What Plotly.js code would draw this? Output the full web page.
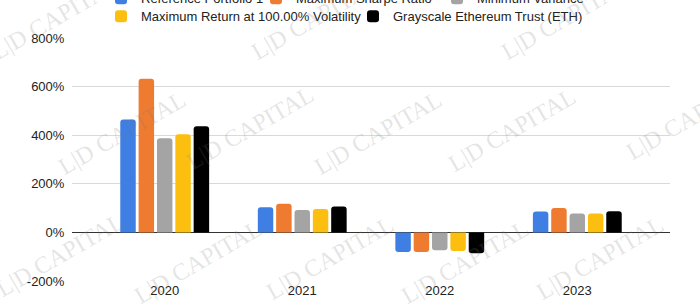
<!DOCTYPE html>
<html>
<head>
<meta charset="utf-8">
<script src="https://cdn.plot.ly/plotly-3.0.1.min.js"></script>
<style>
  html, body { margin: 0; padding: 0; background: #ffffff; }
  #chart { width: 700px; height: 306px; }
</style>
</head>
<body>
<div id="chart"></div>
<script>
// Annual returns by portfolio, in percent
const years = ['2020', '2021', '2022', '2023'];
const seriesNames = [
  'Reference Portfolio 1',
  'Maximum Sharpe Ratio',
  'Minimum Variance',
  'Maximum Return at 100.00% Volatility',
  'Grayscale Ethereum Trust (ETH)'
];
const referencePortfolio = [465, 103, -81, 86];
const maxSharpe = [632, 118, -81, 100];
const minVariance = [387, 92, -73, 78];
const maxReturn = [404, 96, -77, 78];
const ethTrust = [437, 107, -86, 87];
const yTicks = [-200, 0, 200, 400, 600, 800];

const seriesValues = [referencePortfolio, maxSharpe, minVariance, maxReturn, ethTrust];
const seriesColors = ['#3f7fe3', '#ef7b30', '#a4a4a4', '#fdbf0f', '#000000'];

// each legend entry gets its own legend box so entries can sit on two rows
const legendIds = ['legend', 'legend2', 'legend3', 'legend4', 'legend5'];
// left edge (px) and top edge (px) of every legend box
const legendLeft = [101, 256, 437, 101, 353];
const legendTop = [-16.6, -16.6, -16.6, 1.4, 1.4];

const traces = seriesNames.map((name, i) => ({
  type: 'bar',
  name: name,
  x: years,
  y: seriesValues[i],
  legend: legendIds[i],
  marker: { color: seriesColors[i], line: { width: 0 } },
  hoverinfo: 'skip'
}));

const plotLeft = 72, plotRight = 670, plotTop = 38, plotBottom = 281;
const toPaperX = px => (px - plotLeft) / (plotRight - plotLeft);
const toPaperY = py => (plotBottom - py) / (plotBottom - plotTop);

// Diagonal brand watermark, tiled across the canvas (pixel positions)
const markPixels = [
  [55, 18], [315, 18], [565, 18],
  [122, 133], [250, 128], [378, 133], [512, 130], [690, 118],
  [60, 255], [198, 262], [330, 258], [465, 262], [600, 258]
];
const watermarks = markPixels.map(([px, py]) => ({
  xref: 'paper', yref: 'paper',
  x: toPaperX(px),
  y: toPaperY(py),
  xanchor: 'center', yanchor: 'middle',
  text: 'L|D CAPITAL',
  showarrow: false,
  textangle: -30,
  font: { family: 'Liberation Serif, DejaVu Serif, serif', size: 24, color: 'rgba(120,120,120,0.2)' }
}));

const layout = {
  width: 700,
  height: 306,
  margin: { l: plotLeft, r: 700 - plotRight, t: plotTop, b: 306 - plotBottom, autoexpand: false },
  paper_bgcolor: '#ffffff',
  plot_bgcolor: '#ffffff',
  font: { family: 'Liberation Sans, Arial, Helvetica, sans-serif', size: 13, color: '#222222' },
  barmode: 'group',
  bargap: 0.333,
  bargroupgap: 0.157,
  barcornerradius: 3,
  showlegend: true,
  xaxis: {
    type: 'category',
    range: [-0.674, 3.674],
    showgrid: false,
    zeroline: false,
    showline: false,
    ticks: '',
    tickfont: { size: 13, color: '#222222' },
    fixedrange: true
  },
  yaxis: {
    range: [-200, 800],
    tickvals: yTicks,
    ticktext: yTicks.map(v => v + '%'),
    showgrid: true,
    gridcolor: '#d9d9d9',
    gridwidth: 1,
    zeroline: true,
    zerolinecolor: '#333333',
    zerolinewidth: 1,
    showline: false,
    ticks: 'outside',
    ticklen: 4,
    tickcolor: 'rgba(0,0,0,0)',
    tickfont: { size: 13, color: '#222222' },
    fixedrange: true
  },
  annotations: watermarks
};

legendIds.forEach((id, i) => {
  layout[id] = {
    orientation: 'h',
    xref: 'paper', yref: 'paper',
    x: toPaperX(legendLeft[i]),
    y: toPaperY(legendTop[i]),
    xanchor: 'left', yanchor: 'top',
    font: { size: 13, color: '#222222' },
    bgcolor: 'rgba(0,0,0,0)',
    itemclick: false
  };
});

Plotly.newPlot('chart', traces, layout, { displayModeBar: false, staticPlot: true });
</script>
</body>
</html>
